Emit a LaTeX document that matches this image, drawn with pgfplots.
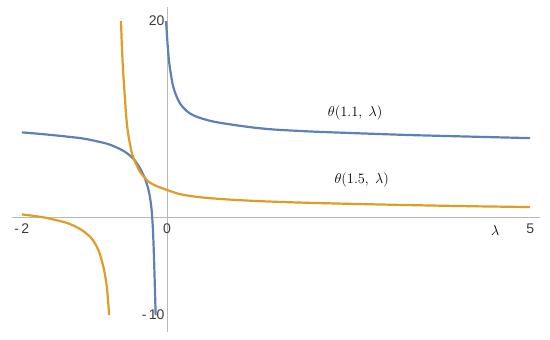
\documentclass[border=0pt]{standalone}
\usepackage{fontspec}
\setmainfont{Liberation Sans}
\usepackage{pgfplots}
\pgfplotsset{compat=1.18}
\definecolor{mblue}{rgb}{0.368417,0.506779,0.709798}
\definecolor{morange}{rgb}{0.880722,0.611041,0.142051}
\definecolor{tickgray}{RGB}{60,60,60}
\definecolor{axgray}{RGB}{185,185,185}
\begin{document}
\begin{tikzpicture}
\useasboundingbox (-12pt,-8pt) rectangle (538pt,332pt);
\begin{axis}[
  scale only axis, width=528pt, height=325pt,
  xmin=-2.135, xmax=5.135, ymin=-11.73, ymax=21.43,
  axis lines=middle,
  axis line style={axgray, line width=0.8pt, -},
  hide obscured x ticks=false, hide obscured y ticks=false,
  xtick={-2,0,5}, xticklabels={-\,2,0\hspace{4pt},5},
  ytick={-10,20}, yticklabels={-\,10,20},
  major tick length=0pt,
  tick label style={font=\fontsize{14}{16}\selectfont, text=tickgray},
  xticklabel style={anchor=north, yshift=-3pt},
  yticklabel style={xshift=1pt},
  clip=false,
]
% theta(1.1, lambda), left branch
\addplot[mblue, line width=2.2pt, smooth] coordinates {
(-2.0,8.64) (-1.63,8.40) (-1.175,8.03) (-0.92,7.65) (-0.785,7.38) (-0.6,6.75)
(-0.464,5.95) (-0.37,4.95) (-0.30,3.85) (-0.257,2.8) (-0.234,1.95) (-0.215,0.9)
(-0.205,0.0) (-0.195,-1.2) (-0.185,-3.0) (-0.175,-5.3) (-0.165,-7.9) (-0.157,-10)
};
% theta(1.1, lambda), right branch
\addplot[mblue, line width=2.2pt, smooth] coordinates {
(-0.014,20) (0.0096,17.4) (0.032,15.6) (0.073,13.7) (0.11,12.7) (0.156,11.9)
(0.2,11.36) (0.29,10.7) (0.37,10.35) (0.48,10.05) (0.65,9.72) (0.9,9.42)
(1.2,9.12) (1.49,8.92) (2.0,8.72) (2.5,8.58) (3.32,8.37) (4.2,8.2) (5.0,8.05)
};
% theta(1.5, lambda), left branch
\addplot[morange, line width=2.2pt, smooth] coordinates {
(-2.0,0.27) (-1.8,0.08) (-1.63,-0.14) (-1.36,-0.65) (-1.175,-1.33) (-1.04,-2.17)
(-0.946,-3.37) (-0.877,-5.07) (-0.83,-7.1) (-0.797,-10)
};
% theta(1.5, lambda), right branch
\addplot[morange, line width=2.2pt, smooth] coordinates {
(-0.634,20) (-0.62,17.0) (-0.6,14.3) (-0.578,11.9) (-0.565,10.5) (-0.545,9.0)
(-0.52,7.8) (-0.49,6.7) (-0.464,6.1) (-0.42,5.3) (-0.372,4.6) (-0.30,3.95)
(-0.234,3.5) (-0.142,3.15) (-0.07,2.95) (0,2.76) (0.18,2.33) (0.455,2.02)
(0.82,1.8) (1.28,1.62) (1.81,1.48) (2.5,1.35) (3.32,1.22) (4.2,1.1) (5.0,1.02)
};
\node[font=\fontsize{14}{16}\selectfont] at (axis cs:2.59,10.6) {$\theta(1.1,\ \lambda)$};
\node[font=\fontsize{14}{16}\selectfont] at (axis cs:2.68,3.78) {$\theta(1.5,\ \lambda)$};
\node[font=\fontsize{14}{16}\selectfont] at (axis cs:4.52,-1.33) {$\lambda$};
\end{axis}
\end{tikzpicture}
\end{document}
